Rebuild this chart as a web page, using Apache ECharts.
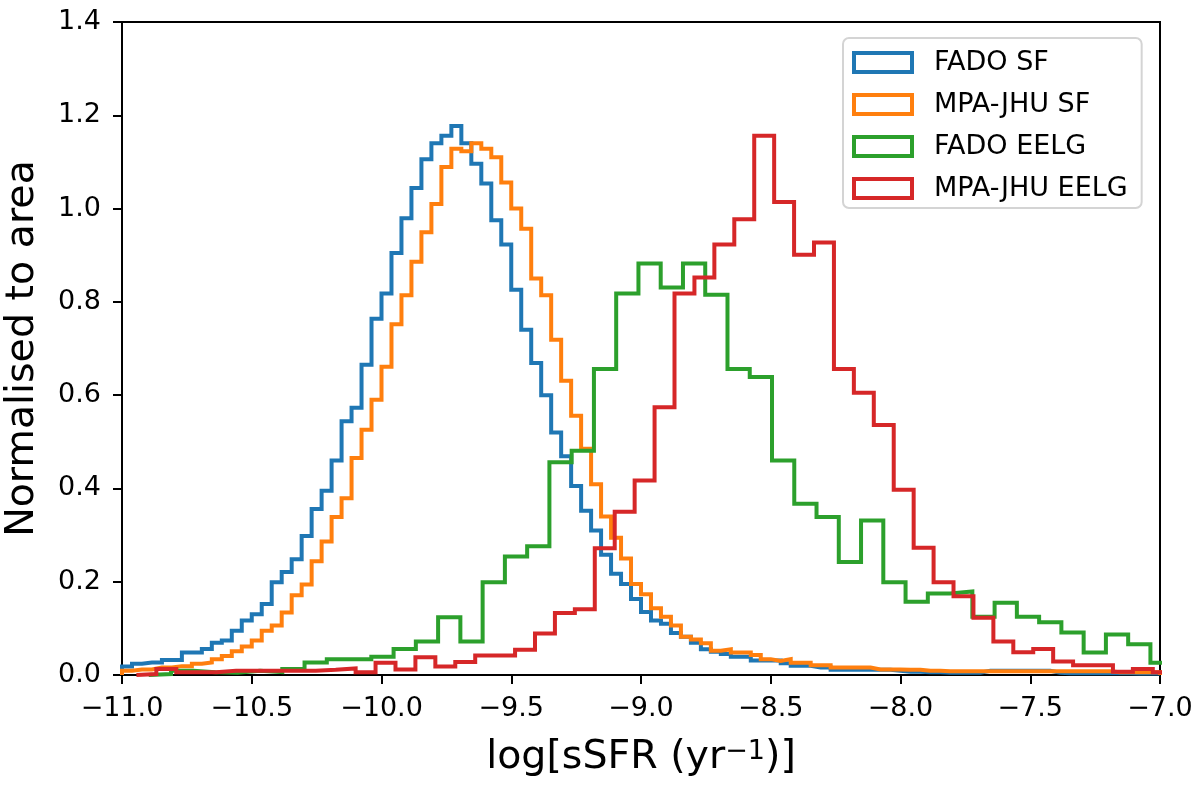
<!DOCTYPE html>
<html>
<head>
<meta charset="utf-8">
<script src="https://cdn.jsdelivr.net/npm/echarts@6/dist/echarts.min.js"></script>
<style>
html,body{margin:0;padding:0;background:#fff;}
#chart{width:1200px;height:796px;}
</style>
</head>
<body>
<div id="chart"></div>
<script>
// ---- Data ----
const seriesNames = ['FADO SF', 'MPA-JHU SF', 'FADO EELG', 'MPA-JHU EELG'];
const seriesColors = ['#1f77b4', '#ff7f0e', '#2ca02c', '#d62728'];

// FADO SF and MPA-JHU SF share fine bins
const sfBinStart = -11.0;
const sfBinWidth = 4 / 104;
const fadoSF = [
  0.018, 0.024, 0.027, 0.027, 0.032, 0.032, 0.048, 0.048, 0.056, 0.069,
  0.074, 0.095, 0.117, 0.130, 0.152, 0.199, 0.221, 0.248, 0.298, 0.356,
  0.395, 0.460, 0.544, 0.573, 0.665, 0.764, 0.818, 0.905, 0.979, 1.044,
  1.106, 1.140, 1.156, 1.177, 1.140, 1.096, 1.054, 0.975, 0.923, 0.826,
  0.740, 0.669, 0.600, 0.520, 0.469, 0.405, 0.352, 0.310, 0.258, 0.217,
  0.195, 0.163, 0.135, 0.117, 0.110, 0.090, 0.082, 0.069, 0.055, 0.050,
  0.045, 0.039, 0.039, 0.031, 0.031, 0.031, 0.025, 0.020, 0.020, 0.016,
  0.016, 0.011, 0.011, 0.011, 0.011, 0.011, 0.011, 0.009, 0.007, 0.007,
  0.006, 0.006, 0.005, 0.005, 0.005, 0.005, 0.009, 0.009, 0.009, 0.009,
  0.009, 0.009, 0.009, 0.005, 0.004, 0.004, 0.004, 0.004, 0.004, 0.004,
  0.004, 0.003, 0.003, 0.003
];
const mpaSF = [
  0.009, 0.012, 0.012, 0.016, 0.016, 0.019, 0.019, 0.024, 0.027, 0.034,
  0.041, 0.051, 0.061, 0.074, 0.095, 0.106, 0.134, 0.171, 0.194, 0.244,
  0.286, 0.339, 0.379, 0.465, 0.526, 0.590, 0.661, 0.752, 0.814, 0.886,
  0.949, 1.010, 1.089, 1.128, 1.123, 1.140, 1.128, 1.110, 1.056, 1.000,
  0.957, 0.850, 0.814, 0.719, 0.631, 0.556, 0.485, 0.409, 0.340, 0.294,
  0.250, 0.195, 0.173, 0.143, 0.125, 0.106, 0.082, 0.076, 0.068, 0.052,
  0.055, 0.048, 0.048, 0.043, 0.034, 0.030, 0.034, 0.026, 0.026, 0.021,
  0.021, 0.016, 0.016, 0.016, 0.016, 0.012, 0.012, 0.012, 0.011, 0.011,
  0.009, 0.009, 0.008, 0.008, 0.008, 0.008, 0.008, 0.008, 0.008, 0.008,
  0.008, 0.008, 0.008, 0.008, 0.008, 0.008, 0.008, 0.008, 0.008, 0.006,
  0.006, 0.006, 0.006, 0.006
];

// FADO EELG bins
const fadoEELGBinStart = -10.897;
const fadoEELGBinWidth = 0.08578;
const fadoEELG = [
  0.002, 0.009, 0.006, 0.005, 0.009, 0.006, 0.013, 0.027, 0.034, 0.034,
  0.039, 0.056, 0.072, 0.124, 0.072, 0.199, 0.254, 0.276, 0.456, 0.481,
  0.656, 0.818, 0.882, 0.831, 0.882, 0.815, 0.656, 0.639, 0.460, 0.367,
  0.339, 0.242, 0.331, 0.199, 0.157, 0.175, 0.179, 0.125, 0.155, 0.125,
  0.113, 0.091, 0.048, 0.087, 0.066, 0.026
];

// MPA-JHU EELG bins
const mpaEELGBinStart = -10.9445;
const mpaEELGBinWidth = 0.0768;
const mpaEELG = [
  0.002, 0.013, 0.006, 0.006, 0.009, 0.009, 0.009, 0.009, 0.009, 0.011,
  0.014, 0.006, 0.026, 0.012, 0.038, 0.018, 0.028, 0.042, 0.042, 0.054,
  0.089, 0.133, 0.141, 0.272, 0.350, 0.417, 0.574, 0.818, 0.852, 0.923,
  0.977, 1.156, 1.014, 0.901, 0.927, 0.656, 0.605, 0.536, 0.397, 0.273,
  0.199, 0.169, 0.123, 0.072, 0.049, 0.056, 0.029, 0.021, 0.021, 0.007,
  0.013, 0.006
];

const xMin = -11, xMax = -7, xStep = 0.5;
const yMin = 0, yMax = 1.4, yStep = 0.2;

// ---- Build step-histogram outlines ----
function stepOutline(start, width, heights) {
  const pts = [[start, 0]];
  heights.forEach((h, i) => pts.push([start + i * width, h]));
  pts.push([start + heights.length * width, 0]);
  return pts;
}
const histData = [
  stepOutline(sfBinStart, sfBinWidth, fadoSF),
  stepOutline(sfBinStart, sfBinWidth, mpaSF),
  stepOutline(fadoEELGBinStart, fadoEELGBinWidth, fadoEELG),
  stepOutline(mpaEELGBinStart, mpaEELGBinWidth, mpaEELG)
];

const FONT = 'DejaVu Sans';
const fmtNum = v => (v < 0 ? '\u2212' : '') + Math.abs(v).toFixed(1);

const chart = echarts.init(document.getElementById('chart'), null, {renderer: 'canvas'});
chart.setOption({
  animation: false,
  backgroundColor: '#ffffff',
  textStyle: {fontFamily: FONT, color: '#000'},
  grid: {
    left: 122, right: 40, top: 22, bottom: 121,
    show: true, borderColor: '#000', borderWidth: 2,
    outerBoundsMode: 'none'
  },
  xAxis: {
    type: 'value', min: xMin, max: xMax, interval: xStep,
    axisLine: {show: true, onZero: false, lineStyle: {color: '#000', width: 2}},
    axisTick: {show: true, inside: false, length: 9, lineStyle: {color: '#000', width: 2}},
    splitLine: {show: false},
    axisLabel: {
      margin: 20, fontSize: 27, color: '#000', fontFamily: FONT,
      formatter: fmtNum, showMinLabel: true, showMaxLabel: true
    },
    name: '{m|log[sSFR (yr}{s|\u22121}{m|)]}',
    nameLocation: 'middle',
    nameGap: 63,
    nameTextStyle: {
      fontFamily: FONT, color: '#000',
      rich: {
        m: {fontSize: 39.5, lineHeight: 40, fontFamily: FONT, color: '#000'},
        s: {fontSize: 27, lineHeight: 27, verticalAlign: 'top', fontFamily: FONT, color: '#000'}
      }
    }
  },
  yAxis: {
    type: 'value', min: yMin, max: yMax, interval: yStep,
    axisLine: {show: true, onZero: false, lineStyle: {color: '#000', width: 2}},
    axisTick: {show: true, inside: false, length: 9, lineStyle: {color: '#000', width: 2}},
    splitLine: {show: false},
    axisLabel: {
      margin: 21, fontSize: 27, color: '#000', fontFamily: FONT,
      formatter: v => v.toFixed(1), showMinLabel: true, showMaxLabel: true
    },
    name: 'Normalised to area',
    nameLocation: 'middle',
    nameGap: 79,
    nameRotate: 90,
    nameTextStyle: {fontSize: 39.5, lineHeight: 40, fontFamily: FONT, color: '#000'}
  },
  legend: {
    orient: 'vertical',
    left: 843, top: 38,
    padding: [11, 14, 6, 9],
    itemWidth: 58, itemHeight: 19,
    itemGap: 15,
    backgroundColor: 'rgba(255,255,255,0.8)',
    borderColor: '#d4d4d4', borderWidth: 2, borderRadius: 6,
    textStyle: {fontSize: 27, lineHeight: 27, color: '#000', fontFamily: FONT, padding: [0, 0, 0, 17]},
    data: seriesNames.map((n, i) => ({
      name: n, icon: 'rect',
      itemStyle: {color: 'rgba(255,255,255,0)', borderColor: seriesColors[i], borderWidth: 4}
    }))
  },
  series: seriesNames.map((n, i) => ({
    name: n,
    type: 'line',
    step: 'end',
    showSymbol: false,
    symbol: 'none',
    clip: true,
    color: seriesColors[i],
    lineStyle: {color: seriesColors[i], width: 4, join: 'miter', cap: 'butt'},
    data: histData[i],
    z: 2 + i
  }))
});
</script>
</body>
</html>
